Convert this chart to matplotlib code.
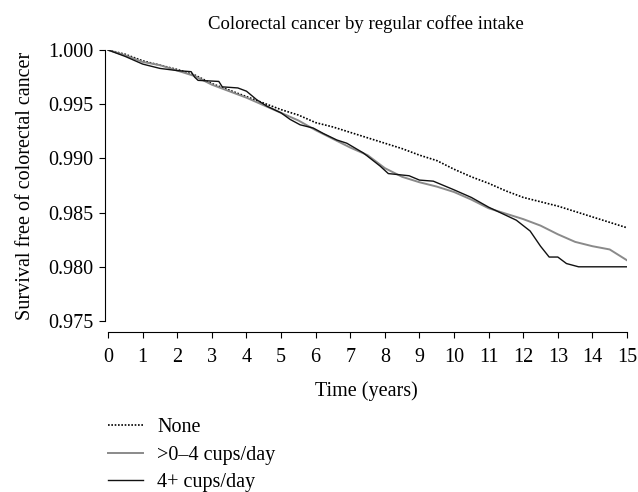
import matplotlib
matplotlib.use("Agg")
import matplotlib.pyplot as plt

plt.rcParams['font.family'] = ['Liberation Serif', 'DejaVu Serif']
plt.rcParams['font.size'] = 14.5

# survival curves (time in years, survival)
t_none = [0, 0.5, 1, 1.5, 2, 2.5, 3, 3.5, 4, 4.5, 5, 5.5, 6, 6.5, 7, 7.5, 8,
          8.5, 9, 9.5, 10, 10.5, 11, 11.5, 12, 12.5, 13, 13.5, 14, 14.5, 15]
s_none = [1.0000, 0.9996, 0.9990, 0.9986, 0.9982, 0.9977, 0.9969, 0.9963,
          0.9957, 0.9951, 0.9945, 0.9940, 0.9933, 0.9929, 0.9924, 0.9919,
          0.9914, 0.9909, 0.9903, 0.9898, 0.9890, 0.9883, 0.9877, 0.9870,
          0.9864, 0.9860, 0.9856, 0.9851, 0.9846, 0.9841, 0.9836]

t_mid = [0, 0.5, 1, 1.5, 2, 2.5, 3, 3.5, 4, 4.5, 5, 5.5, 6, 6.5, 7, 7.5, 8,
         8.5, 9, 9.5, 10, 10.5, 11, 11.5, 12, 12.5, 13, 13.5, 14, 14.5, 15]
s_mid = [1.0000, 0.9995, 0.9989, 0.9986, 0.9981, 0.9976, 0.9968, 0.9962,
         0.9956, 0.9949, 0.9942, 0.9935, 0.9926, 0.9918, 0.9910, 0.9903,
         0.9891, 0.9883, 0.9878, 0.9874, 0.9869, 0.9862, 0.9854, 0.9849,
         0.9844, 0.9838, 0.9830, 0.9823, 0.9819, 0.9816, 0.9806]

t_high = [0, 0.5, 1, 1.5, 2, 2.4, 2.5, 2.6, 3.2, 3.3, 3.75, 4.0, 4.3, 4.6, 5,
          5.26, 5.55, 5.93, 6.22, 6.61, 6.9, 7.38, 7.86, 8.1, 8.7, 9.0, 9.4,
          10, 10.5, 11, 11.8, 12.2, 12.5, 12.75, 13.0, 13.25, 13.6, 15]
s_high = [1.0000, 0.9994, 0.9987, 0.9983, 0.9981, 0.9980, 0.9975, 0.9972,
          0.9971, 0.9966, 0.9965, 0.9962, 0.9954, 0.9948, 0.9942, 0.9936,
          0.9931, 0.9928, 0.9923, 0.9917, 0.9914, 0.9905, 0.9893, 0.9886,
          0.9884, 0.9880, 0.9879, 0.9871, 0.9864, 0.9855, 0.9843, 0.9833,
          0.9819, 0.9809, 0.9809, 0.9803, 0.9800, 0.9800]

labels = ['None', '>0–4 cups/day', '4+ cups/day']
yticks = [0.975, 0.980, 0.985, 0.990, 0.995, 1.000]

fig = plt.figure(figsize=(6.38, 4.92), dpi=100)
ax = fig.add_axes([105/638, 1 - 321/492, 522/638, 271/492])

ax.plot(t_none, s_none, color='black', lw=1.2, ls=(0, (1, 1)), label=labels[0])
ax.plot(t_mid, s_mid, color='#8a8a8a', lw=1.4, label=labels[1])
ax.plot(t_high, s_high, color='#111111', lw=1.0, label=labels[2])

ax.set_xlim(-0.09, 15)
ax.set_ylim(0.975, 1.0)
ax.set_xticks(range(16))
ax.set_yticks(yticks)
ax.set_yticklabels(['%.3f' % v for v in yticks])

for s in ['top', 'right']:
    ax.spines[s].set_visible(False)
ax.spines['bottom'].set_position(('outward', 8))
ax.spines['bottom'].set_bounds(0, 15)
ax.spines['left'].set_bounds(0.975, 1.0)
ax.tick_params(axis='both', direction='out', length=4.5, width=0.8)
ax.tick_params(axis='y', pad=4)
ax.tick_params(axis='x', pad=7)

ax.set_title('Colorectal cancer by regular coffee intake', fontsize=13.5, pad=15)
ax.set_xlabel('Time (years)', labelpad=10)
ax.set_ylabel('Survival free of colorectal cancer')
ax.yaxis.set_label_coords(-0.135, 0.5)

fig.legend(loc='upper left', bbox_to_anchor=(108/638, 1 - 418/492),
           frameon=False, borderpad=0, borderaxespad=0, handlelength=1.74,
           handletextpad=0.7, labelspacing=0.42)

fig.savefig('out.png', dpi=100)
